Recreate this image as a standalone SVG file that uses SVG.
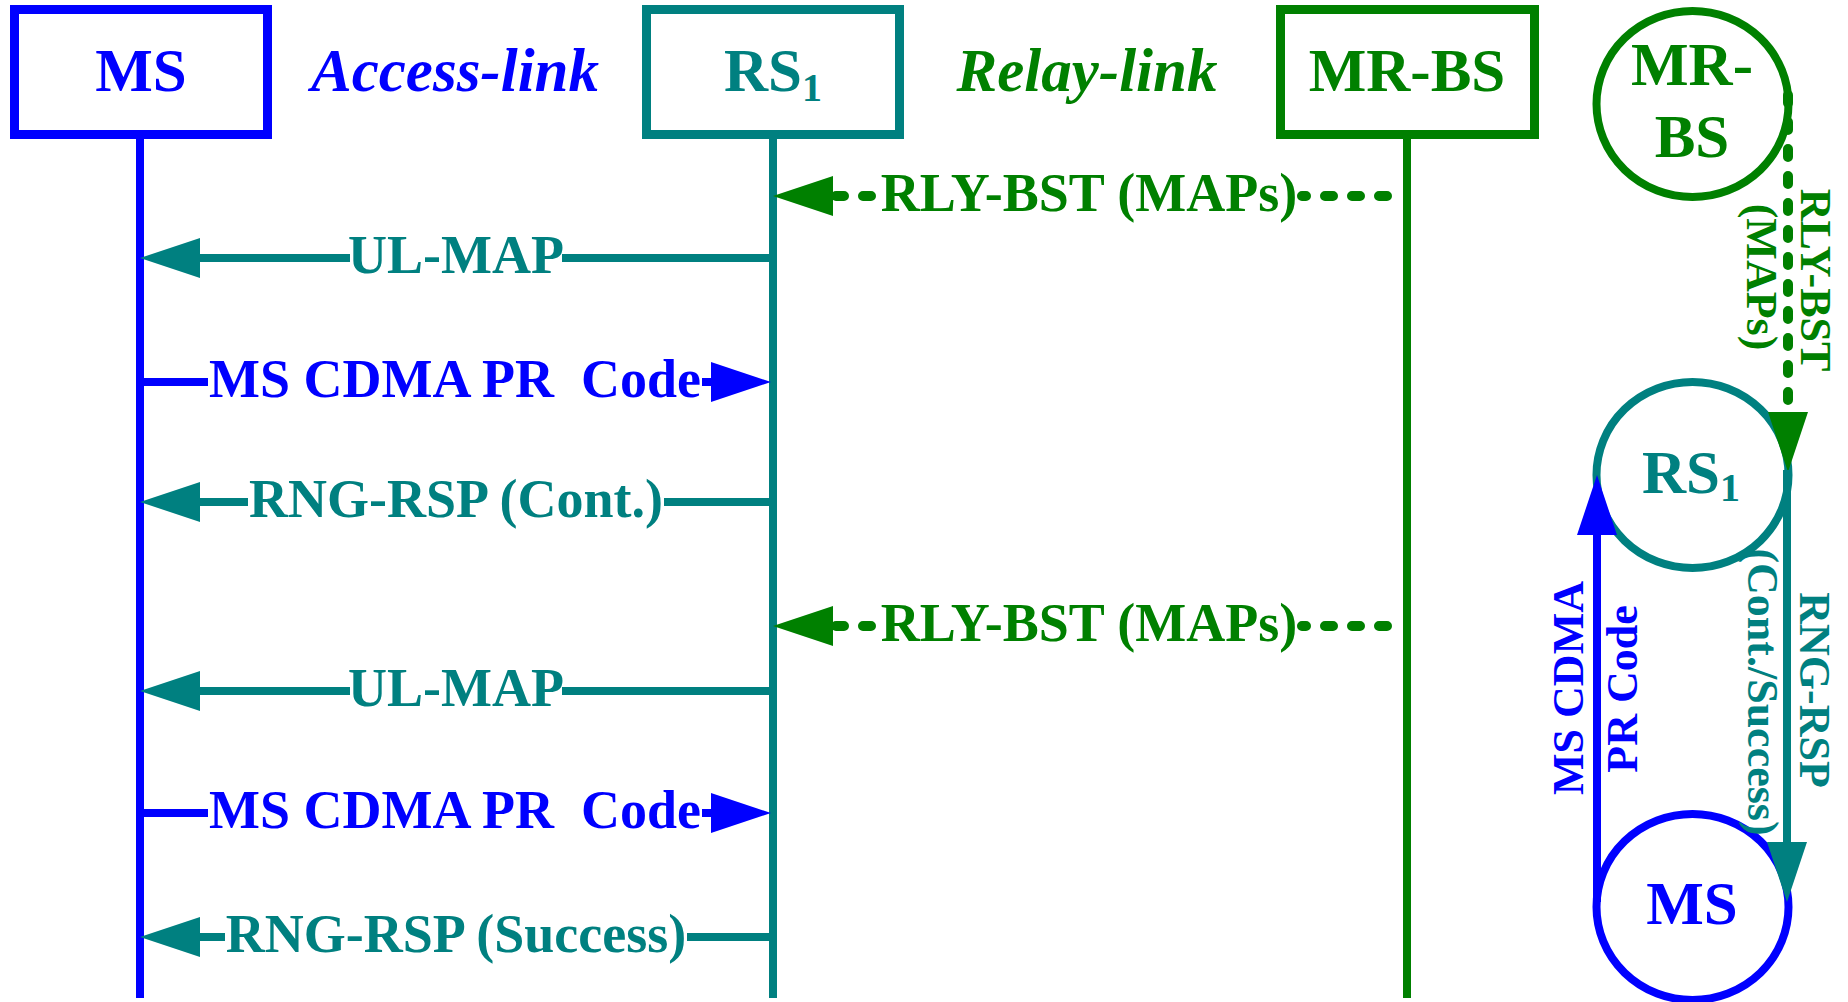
<svg xmlns="http://www.w3.org/2000/svg" width="1848" height="1002" viewBox="0 0 1848 1002">
<style>
text{font-family:"Liberation Serif","Times New Roman",serif;font-weight:bold;text-anchor:middle}
.hd{font-size:61px}
.it{font-style:italic}
.msg{font-size:54px}
.sm{font-size:44px}
.blue{fill:#0000FF}
.teal{fill:#008080}
.green{fill:#008000}
.box{fill:#fff;stroke-width:9}
.life{stroke-width:8;fill:none}
.ln{stroke-width:8;fill:none}
.dash{stroke-width:10;fill:none;stroke-dasharray:8 19;stroke-linecap:round}
.circ{fill:none;stroke-width:8}
</style>
<defs>
<marker id="ah-teal" markerUnits="userSpaceOnUse" markerWidth="60" markerHeight="40" viewBox="0 0 60 40" refX="0" refY="20" orient="auto"><path d="M0,0 L60,20 L0,40 z" fill="#008080"/></marker>
<marker id="ah-blue" markerUnits="userSpaceOnUse" markerWidth="60" markerHeight="40" viewBox="0 0 60 40" refX="0" refY="20" orient="auto"><path d="M0,0 L60,20 L0,40 z" fill="#0000FF"/></marker>
<marker id="ah-green" markerUnits="userSpaceOnUse" markerWidth="60" markerHeight="40" viewBox="0 0 60 40" refX="0" refY="20" orient="auto"><path d="M0,0 L60,20 L0,40 z" fill="#008000"/></marker>
</defs>
<rect width="1848" height="1002" fill="#fff"/>

<g id="node-ms">
<rect class="box" x="14.5" y="9.5" width="253" height="125" stroke="#0000FF"/>
<text class="hd blue" x="141" y="91">MS</text>
<line class="life" x1="140" y1="139" x2="140" y2="998" stroke="#0000FF"/>
</g>
<g id="label-access">
<text class="hd it blue" x="455" y="91">Access-link</text>
</g>
<g id="node-rs1">
<rect class="box" x="646.5" y="9.5" width="253" height="125" stroke="#008080"/>
<text class="hd teal" x="773" y="91">RS<tspan font-size="40" dy="10">1</tspan></text>
<line class="life" x1="773" y1="139" x2="773" y2="998" stroke="#008080"/>
</g>
<g id="label-relay">
<text class="hd it green" x="1087" y="91">Relay-link</text>
</g>
<g id="node-mrbs">
<rect class="box" x="1280.5" y="9.5" width="254" height="125" stroke="#008000"/>
<text class="hd green" x="1407" y="91">MR-BS</text>
<line class="life" x1="1407" y1="139" x2="1407" y2="998" stroke="#008000"/>
</g>

<g id="node-mrbs-circle">
<ellipse class="circ" cx="1692.5" cy="104" rx="96" ry="93" stroke="#008000"/>
<text class="hd green" x="1692" y="85">MR-</text>
<text class="hd green" x="1692" y="157">BS</text>
</g>
<g id="node-rs1-circle">
<ellipse class="circ" cx="1692.5" cy="475" rx="96" ry="93" stroke="#008080"/>
<text class="hd teal" x="1691" y="493">RS<tspan font-size="40" dy="8">1</tspan></text>
</g>
<g id="node-ms-circle">
<ellipse class="circ" cx="1692.5" cy="907" rx="96" ry="93" stroke="#0000FF"/>
<text class="hd blue" x="1692" y="924">MS</text>
</g>

<g id="connectors">
<!-- 1 RLY-BST -->
<path class="dash" d="M1387,196 H1302" stroke="#008000"/>
<path class="dash" d="M871,196 H833" stroke="#008000" marker-end="url(#ah-green)"/>
<text class="msg green" x="1089" y="211">RLY-BST (MAPs)</text>
<!-- 2 UL-MAP -->
<path class="ln" d="M773,258 H562" stroke="#008080"/>
<path class="ln" d="M350,258 H200" stroke="#008080" marker-end="url(#ah-teal)"/>
<text class="msg teal" x="456" y="273">UL-MAP</text>
<!-- 3 MS CDMA -->
<path class="ln" d="M140,382 H208" stroke="#0000FF"/>
<path class="ln" d="M702,382 H711" stroke="#0000FF" marker-end="url(#ah-blue)"/>
<text class="msg blue" x="455" y="397" xml:space="preserve">MS CDMA PR  Code</text>
<!-- 4 RNG-RSP Cont -->
<path class="ln" d="M773,502 H664" stroke="#008080"/>
<path class="ln" d="M248,502 H200" stroke="#008080" marker-end="url(#ah-teal)"/>
<text class="msg teal" x="456" y="517">RNG-RSP (Cont.)</text>
<!-- 5 RLY-BST -->
<path class="dash" d="M1387,626 H1302" stroke="#008000"/>
<path class="dash" d="M871,626 H833" stroke="#008000" marker-end="url(#ah-green)"/>
<text class="msg green" x="1089" y="641">RLY-BST (MAPs)</text>
<!-- 6 UL-MAP -->
<path class="ln" d="M773,691 H562" stroke="#008080"/>
<path class="ln" d="M350,691 H200" stroke="#008080" marker-end="url(#ah-teal)"/>
<text class="msg teal" x="456" y="706">UL-MAP</text>
<!-- 7 MS CDMA -->
<path class="ln" d="M140,813 H208" stroke="#0000FF"/>
<path class="ln" d="M702,813 H711" stroke="#0000FF" marker-end="url(#ah-blue)"/>
<text class="msg blue" x="455" y="828" xml:space="preserve">MS CDMA PR  Code</text>
<!-- 8 RNG-RSP Success -->
<path class="ln" d="M773,937 H687" stroke="#008080"/>
<path class="ln" d="M225,937 H200" stroke="#008080" marker-end="url(#ah-teal)"/>
<text class="msg teal" x="456" y="952">RNG-RSP (Success)</text>

<!-- right side -->
<path class="dash" d="M1788,95 V412" stroke="#008000" marker-end="url(#ah-green)"/>
<text class="sm green" transform="translate(1801,280) rotate(90)">RLY-BST</text>
<text class="sm green" transform="translate(1747,277) rotate(90)">(MAPs)</text>
<path class="ln" d="M1597,902 V535" stroke="#0000FF" marker-end="url(#ah-blue)"/>
<text class="sm blue" transform="translate(1583,688) rotate(-90)">MS CDMA</text>
<text class="sm blue" transform="translate(1637,689) rotate(-90)">PR Code</text>
<path class="ln" d="M1787,470 V842" stroke="#008080" marker-end="url(#ah-teal)"/>
<text class="sm teal" transform="translate(1800,690) rotate(90)">RNG-RSP</text>
<text class="sm teal" transform="translate(1748,692) rotate(90)">(Cont./Success)</text>
</g>
</svg>
